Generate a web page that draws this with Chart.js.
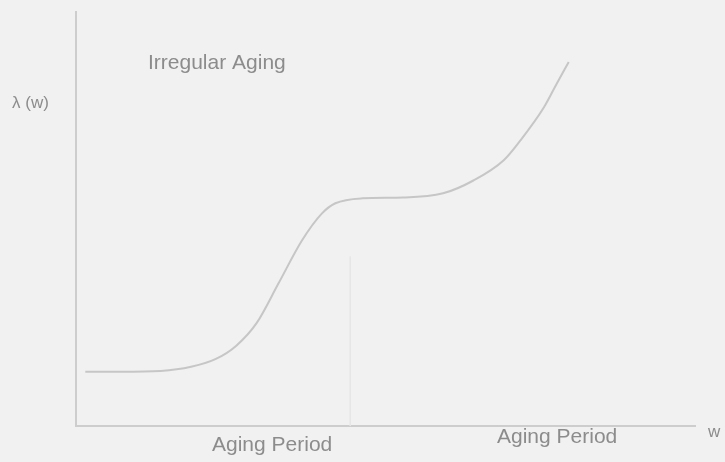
<!DOCTYPE html>
<html>
<head>
<meta charset="utf-8">
<style>
  html, body { margin: 0; padding: 0; background: #f1f1f1; }
  #wrap { width: 725px; height: 462px; }
</style>
<script src="https://cdn.jsdelivr.net/npm/chart.js@4/dist/chart.umd.min.js"></script>
</head>
<body>
<div id="wrap"><canvas id="agingChart" width="725" height="462"></canvas></div>
<script>
// Curve (w on x, lambda(w) on y, both 0..100)
const wValues = [1.5, 7.2, 13.7, 18.6, 22.6, 25.9, 29.2, 32.7, 36.5, 39.7, 41.9, 46.3, 52.8, 59.3, 64.2, 69.1, 71.8, 75.6, 77.7, 79.6];
const lambdaValues = [13.1, 13.1, 13.3, 14.3, 16.2, 19.4, 24.9, 34.4, 44.8, 51.3, 53.8, 55.0, 55.2, 56.2, 59.3, 64.2, 69.0, 77.0, 82.8, 87.9];

// faint divider between the two aging periods
const dividerW = [44.3, 44.3];
const dividerLambda = [0, 41];

const titleText = "Irregular Aging";
const yLabel = "\u03BB (w)";
const xLabel = "w";
const periodLabels = ["Aging Period", "Aging Period"];

const ink = "#8c8c8c";
const lineColor = "#c6c6c6";

const curve = wValues.map((w, i) => ({ x: w, y: lambdaValues[i] }));
const divider = dividerW.map((w, i) => ({ x: w, y: dividerLambda[i] }));

// Draw the hand-lettered labels of the figure
const labelsPlugin = {
  id: "figureLabels",
  afterDraw(chart) {
    const ctx = chart.ctx;
    ctx.save();
    ctx.fillStyle = ink;
    ctx.textBaseline = "middle";
    ctx.textAlign = "left";
    ctx.font = "21px 'Liberation Sans', Arial, sans-serif";
    ctx.fillText(titleText, 148, 63);
    ctx.fillText(periodLabels[0], 212, 445);
    ctx.fillText(periodLabels[1], 497, 437);
    ctx.font = "17px 'Liberation Sans', Arial, sans-serif";
    ctx.fillText(yLabel, 12, 103);
    ctx.fillText(xLabel, 708, 432);
    ctx.restore();
  },
};

const bgPlugin = {
  id: "bg",
  beforeDraw(chart) {
    const ctx = chart.ctx;
    ctx.save();
    ctx.fillStyle = "#f1f1f1";
    ctx.fillRect(0, 0, chart.width, chart.height);
    ctx.restore();
  },
};

new Chart(document.getElementById("agingChart"), {
  type: "line",
  data: {
    datasets: [
      {
        data: curve,
        borderColor: lineColor,
        borderWidth: 2,
        pointRadius: 0,
        cubicInterpolationMode: "monotone",
      },
      {
        data: divider,
        borderColor: "#e6e6e6",
        borderWidth: 1.5,
        pointRadius: 0,
      },
    ],
  },
  options: {
    responsive: false,
    animation: false,
    layout: { padding: { left: 68, top: 12, right: 30, bottom: 28 } },
    plugins: {
      legend: { display: false },
      tooltip: { enabled: false },
    },
    scales: {
      x: {
        type: "linear",
        min: 0,
        max: 100,
        grid: { display: false },
        ticks: { display: false },
        border: { display: true, color: "#cdcdcd", width: 2 },
      },
      y: {
        type: "linear",
        min: 0,
        max: 100,
        grid: { display: false },
        ticks: { display: false },
        border: { display: true, color: "#cdcdcd", width: 2 },
      },
    },
  },
  plugins: [bgPlugin, labelsPlugin],
});
</script>
</body>
</html>
